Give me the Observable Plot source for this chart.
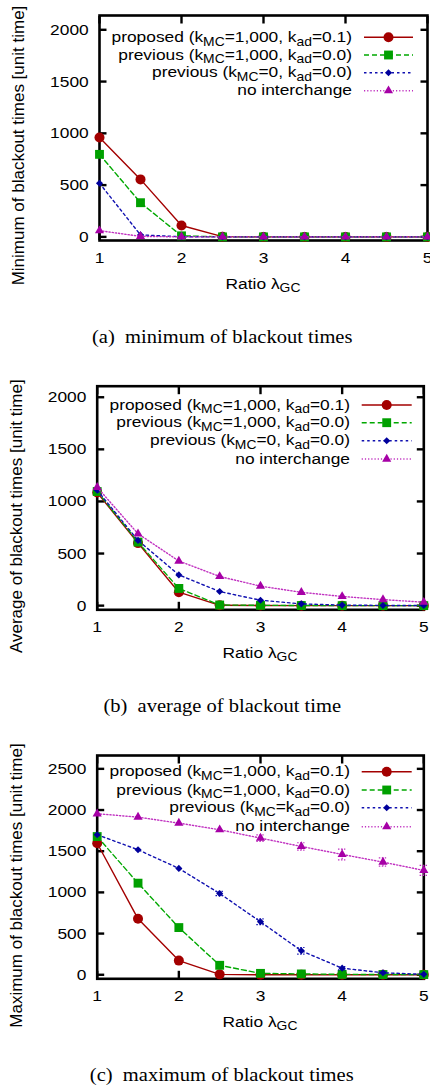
<!DOCTYPE html>
<html><head><meta charset="utf-8">
<script src="https://cdn.jsdelivr.net/npm/d3@7"></script>
<script src="https://cdn.jsdelivr.net/npm/@observablehq/plot@0.6"></script>
<style>
body{margin:0;background:#fff;width:430px;overflow:hidden}
.block{position:relative;width:430px;overflow:hidden}
.block svg{display:block}
.cap{position:absolute;left:7px;width:430px;text-align:center;font-family:"Liberation Serif","Times New Roman",serif;font-size:18px;line-height:20px;white-space:pre;color:#000}
.cap span{display:inline-block;transform:scaleX(1.14)}
</style></head><body><div id="root"></div>
<script>
// ---- data ----
const ratios = [1, 1.5, 2, 2.5, 3, 3.5, 4, 4.5, 5];
const xTicks = [1, 2, 3, 4, 5];

// (a) minimum of blackout times
const minProposed = [960, 555, 110, 2, 0, 0, 0, 0, 0];
const minPrev1000 = [797, 330, 10, 0, 0, 0, 0, 0, 0];
const minPrev0    = [518, 19, 1, 0, 0, 0, 0, 0, 0];
const minNone     = [60, 5, 0, 0, 0, 0, 0, 0, 0];

// (b) average of blackout time
const avgProposed = [1085, 600, 129, 3, 1, 0, 0, 0, 0];
const avgPrev1000 = [1095, 610, 165, 6, 3, 1, 0, 0, 0];
const avgPrev0    = [1107, 626, 295, 135, 52, 17, 5, 2, 1];
const avgNone     = [1135, 690, 428, 280, 187, 128, 88, 58, 33];

// (c) maximum of blackout times
const maxProposed = [1597, 679, 172, 5, 0, 0, 0, 0, 0];
const maxPrev1000 = [1678, 1112, 573, 115, 17, 10, 5, 3, 2];
const maxPrev0    = [1700, 1518, 1291, 987, 643, 291, 80, 24, 5];
const maxNone     = [1955, 1914, 1841, 1761, 1659, 1558, 1461, 1368, 1267];
const maxPrev0Err = [0, 0, 0, 25, 35, 40, 20, 10, 0];
const maxNoneErr  = [0, 0, 0, 0, 40, 45, 65, 50, 60];

const yTicks2000 = [0, 500, 1000, 1500, 2000];
const yTicks2500 = [0, 500, 1000, 1500, 2000, 2500];

const legendAB = ["proposed (k_{MC}=1,000, k_{ad}=0.1)", "previous (k_{MC}=1,000, k_{ad}=0.0)", "previous (k_{MC}=0, k_{ad}=0.0)", "no interchange"];
const legendC  = ["proposed (k_{MC}=1,000, k_{ad}=0.1)", "previous (k_{MC}=1,000, k_{ad}=0.0)", "previous (k_{MC}=k_{ad}=0.0)", "no interchange"];
const xLabel = "Ratio \u03bb_{GC}";
const yLabels = ["Minimum of blackout times [unit time]", "Average of blackout times [unit time]", "Maximum of blackout times [unit time]"];
const captions = ["(a)\u2002minimum of blackout times", "(b)\u2002average of blackout time", "(c)\u2002maximum of blackout times"];

// ---- styles ----
const styles = [
  {color: "#a30000", line: "#a30000", dash: null, symbol: "circle", sym: d3.symbolCircle, r: 5},
  {color: "#00a000", line: "#00a800", dash: "5,3", symbol: "square", sym: d3.symbolSquare, r: 5},
  {color: "#00009c", line: "#1010b0", dash: "2.5,3", symbol: "diamond2", sym: d3.symbolDiamond2, r: 3.2},
  {color: "#a600a6", line: "#c030c0", dash: "1.2,2", symbol: "triangle", sym: d3.symbolTriangle, r: 3.4}
];
const SX = 1.12;     // horizontal text stretch
const FS = 15.5;     // horizontal text size
const H = 300;

const panels = [
  {values: [minProposed, minPrev1000, minPrev0, minNone], errs: null, yDomain: [-35, 2138], yTicks: yTicks2000,
   top: 15, bottom: 60, left: 99, right: 3, blockH: 369, yLabX: 24, legend: legendAB,
   legRows: [22.3, 40, 57.7, 75.7], legTextR: 352, legX1: 364, legX2: 413},
  {values: [avgProposed, avgPrev1000, avgPrev0, avgNone], errs: null, yDomain: [-40, 2106], yTicks: yTicks2000,
   top: 16.7, bottom: 59.7, left: 96.7, right: 6.7, blockH: 369, yLabX: 21.5, legend: legendAB,
   legRows: [19.3, 37, 55, 73.3], legTextR: 350, legX1: 361.7, legX2: 411.7},
  {values: [maxProposed, maxPrev1000, maxPrev0, maxNone], errs: [null, null, maxPrev0Err, maxNoneErr], yDomain: [-49, 2662], yTicks: yTicks2500,
   top: 17, bottom: 59.7, left: 96.7, right: 6.7, blockH: 352, yLabX: 21.5, legend: legendC,
   legRows: [16.7, 35, 52.7, 71.7], legTextR: 350, legX1: 361.7, legX2: 411.7}
];

function richText(sel, str, fs) {
  const parts = str.split(/(_\{[^}]*\})/).filter(s => s.length);
  let down = false;
  parts.forEach(p => {
    if (p.startsWith("_{")) {
      sel.append("tspan").attr("dy", 3.6).attr("font-size", fs * 0.8).text(p.slice(2, -1));
      down = true;
    } else {
      const t = sel.append("tspan").text(p);
      if (down) { t.attr("dy", -3.6); down = false; }
    }
  });
}

const root = document.getElementById("root");
panels.forEach((cfg, pi) => {
  const marks = [
    Plot.frame({stroke: "black", strokeWidth: 2.6}),
    Plot.axisX(xTicks, {anchor: "bottom", tickSize: 0, tickPadding: 11, label: null, tickFormat: d => String(d)}),
    Plot.axisX(xTicks, {anchor: "bottom", tickSize: -7.5, fill: "none", label: null, strokeWidth: 2.4}),
    Plot.axisX(xTicks, {anchor: "top", tickSize: -7.5, fill: "none", label: null, strokeWidth: 2.4}),
    Plot.axisY(cfg.yTicks, {anchor: "left", tickSize: 0, tickPadding: 10.8, label: null, tickFormat: d => String(d)}),
    Plot.axisY(cfg.yTicks, {anchor: "left", tickSize: -7.5, fill: "none", label: null, strokeWidth: 2.4}),
    Plot.axisY(cfg.yTicks, {anchor: "right", tickSize: -7.5, fill: "none", label: null, strokeWidth: 2.4})
  ];
  styles.forEach((s, si) => {
    const d = ratios.map((x, i) => ({x, y: cfg.values[si][i], e: cfg.errs && cfg.errs[si] ? cfg.errs[si][i] : 0}));
    marks.push(Plot.line(d, {x: "x", y: "y", stroke: s.line, strokeWidth: 1.4, strokeDasharray: s.dash}));
    const de = d.filter(v => v.e > 0);
    if (de.length) {
      marks.push(Plot.ruleX(de, {x: "x", y1: v => v.y - v.e, y2: v => v.y + v.e, stroke: s.line, strokeWidth: 1.2, strokeDasharray: "1.5,1.5"}));
      marks.push(Plot.ruleY(de, {y: v => v.y - v.e, x1: v => v.x - 0.045, x2: v => v.x + 0.045, stroke: s.line, strokeWidth: 1.2, strokeDasharray: "1.5,1.5"}));
      marks.push(Plot.ruleY(de, {y: v => v.y + v.e, x1: v => v.x - 0.045, x2: v => v.x + 0.045, stroke: s.line, strokeWidth: 1.2, strokeDasharray: "1.5,1.5"}));
    }
    marks.push(Plot.dot(d, {x: "x", y: "y", symbol: s.symbol, r: s.r, fill: s.color, stroke: "none"}));
  });

  const chart = Plot.plot({
    width: 430, height: H,
    marginLeft: cfg.left, marginRight: cfg.right, marginTop: cfg.top, marginBottom: cfg.bottom,
    x: {type: "linear", domain: [1, 5]},
    y: {type: "linear", domain: cfg.yDomain},
    style: {fontFamily: "'Liberation Sans', Arial, Helvetica, sans-serif", fontSize: FS + "px", color: "black", background: "white", overflow: "visible"},
    marks
  });

  // stretch tick labels horizontally
  chart.querySelectorAll('g[aria-label$="tick label"] text').forEach(t => {
    const tr = t.getAttribute("transform") || "";
    const xa = t.getAttribute("x");
    let pre = "";
    if (xa !== null) { pre = ` translate(${parseFloat(xa) || 0},0)`; t.removeAttribute("x"); }
    t.setAttribute("transform", `${tr}${pre} scale(${SX},1)`);
  });

  const svg = d3.select(chart);
  const fL = cfg.left, fR = 430 - cfg.right, fT = cfg.top, fB = H - cfg.bottom;
  const ff = "'Liberation Sans', Arial, Helvetica, sans-serif";

  // x label
  const xl = svg.append("text")
    .attr("transform", `translate(${(fL + fR) / 2},${fB + 48.5}) scale(${SX},1)`)
    .attr("text-anchor", "middle").attr("font-family", ff).attr("font-size", FS).attr("fill", "black");
  richText(xl, xLabel, FS);

  // y label
  svg.append("text")
    .attr("transform", `translate(${cfg.yLabX},${fT + 130.5}) rotate(-90)`)
    .attr("text-anchor", "middle").attr("font-family", ff).attr("font-size", 17).attr("fill", "black")
    .text(yLabels[pi]);

  // legend
  const lg = svg.append("g");
  cfg.legend.forEach((lab, i) => {
    const y = fT + cfg.legRows[i];
    const s = styles[i];
    const t = lg.append("text")
      .attr("transform", `translate(${cfg.legTextR},${y + 4.6}) scale(${SX},1)`)
      .attr("text-anchor", "end").attr("font-family", ff).attr("font-size", FS).attr("fill", "black");
    richText(t, lab, FS);
    lg.append("line").attr("x1", cfg.legX1).attr("x2", cfg.legX2).attr("y1", y).attr("y2", y)
      .attr("stroke", s.line).attr("stroke-width", 1.4).attr("stroke-dasharray", s.dash);
    lg.append("path").attr("d", d3.symbol(s.sym, Math.PI * s.r * s.r)())
      .attr("transform", `translate(${(cfg.legX1 + cfg.legX2) / 2},${y})`).attr("fill", s.color);
  });

  const block = document.createElement("div");
  block.className = "block";
  block.style.height = cfg.blockH + "px";
  block.appendChild(chart);
  const cap = document.createElement("div");
  cap.className = "cap";
  cap.style.top = "327px";
  const sp = document.createElement("span");
  sp.textContent = captions[pi];
  cap.appendChild(sp);
  block.appendChild(cap);
  root.appendChild(block);
});
</script>
</body></html>
